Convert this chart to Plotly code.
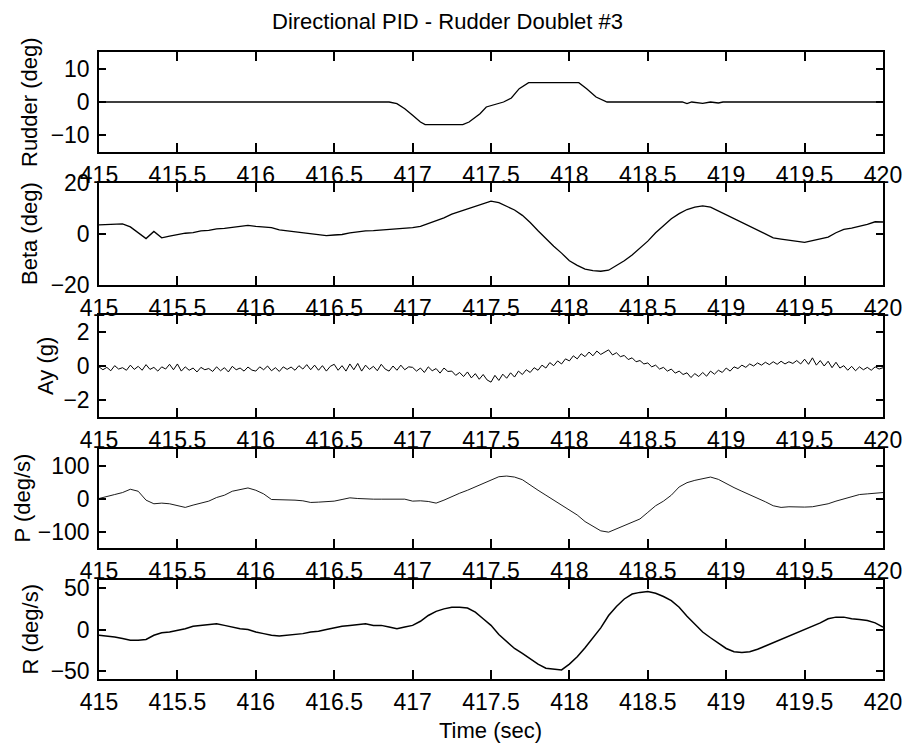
import numpy as np
import plotly.graph_objects as go

# ---------------- data ----------------
rudder_t = [415.0, 416.85, 416.90, 416.95, 417.00, 417.05, 417.08, 417.32, 417.36, 417.40,
            417.43, 417.47, 417.52, 417.58, 417.63, 417.68, 417.74, 418.06, 418.11, 418.17,
            418.24, 418.72, 418.75, 418.78, 418.85, 418.90, 418.95, 418.98, 420.0]
rudder_v = [0.0, 0.0, -0.5, -2.0, -4.0, -6.0, -6.8, -6.8, -6.0, -4.5,
            -3.5, -1.5, -0.8, 0.0, 1.2, 4.0, 5.8, 5.8, 4.0, 1.5,
            0.0, 0.0, -0.5, 0.0, -0.4, 0.0, -0.3, 0.0, 0.0]

beta_v = [3.6, 3.8, 4.0, 4.0, 2.8, 0.5, -1.8, 1.0, -1.5, -0.8,
          -0.2, 0.3, 0.5, 1.2, 1.4, 2.0, 2.2, 2.6, 2.9, 3.4,
          3.0, 2.8, 2.5, 1.6, 1.2, 0.9, 0.5, 0.1, -0.3, -0.6,
          -0.4, -0.2, 0.4, 0.8, 1.2, 1.3, 1.5, 1.8, 2.0, 2.2,
          2.5, 3.0, 4.0, 5.0, 6.3, 7.8, 8.8, 10.0, 11.0, 12.0,
          12.9, 12.3, 11.0, 9.4, 7.3, 4.5, 1.3, -1.8, -4.8, -7.5,
          -10.5, -12.3, -13.8, -14.4, -14.6, -14.2, -12.5, -10.5, -8.2, -5.5,
          -2.8, 0.5, 3.2, 6.0, 8.0, 9.6, 10.5, 11.0, 10.5, 9.0,
          7.5, 6.0, 4.5, 3.0, 1.2, 0.0, -1.5, -2.0, -2.4, -2.8,
          -3.3, -2.6, -2.0, -1.2, 0.5, 1.8, 2.3, 3.0, 3.8, 4.8,
          4.7]

ay_v = [-0.05, -0.22, -0.08, -0.28, 0.02, -0.18, -0.10, -0.25, 0.05, -0.20,
        -0.02, -0.25, 0.08, -0.20, -0.08, -0.30, -0.05, -0.18, 0.10, -0.22,
        0.12, -0.30, -0.05, -0.25, -0.12, -0.35, -0.08, -0.22, -0.15, -0.32,
        -0.05, -0.28, -0.10, -0.35, -0.02, -0.22, -0.12, -0.30, -0.06, -0.24,
        -0.30, -0.05, -0.22, 0.00, -0.28, -0.10, -0.32, -0.05, -0.20, -0.06,
        -0.25, 0.02, -0.18, 0.08, -0.22, 0.05, -0.25, 0.02, -0.30, -0.02,
        0.10, -0.25, 0.02, -0.30, 0.12, -0.22, 0.15, -0.30, 0.05, -0.20,
        -0.02, -0.28, 0.10, -0.18, -0.30, 0.00, -0.25, 0.05, -0.22, -0.05,
        -0.08, -0.30, -0.12, -0.38, -0.05, -0.28, -0.15, -0.42, -0.12, -0.32,
        -0.30, -0.55, -0.38, -0.62, -0.35, -0.70, -0.45, -0.78, -0.50, -0.82,
        -0.95, -0.55, -0.85, -0.48, -0.72, -0.40, -0.65, -0.30, -0.50, -0.22,
        -0.38, -0.10, -0.25, 0.05, -0.12, 0.20, 0.02, 0.30, 0.12, 0.42,
        0.30, 0.60, 0.42, 0.72, 0.55, 0.82, 0.60, 0.88, 0.68, 0.80,
        0.95, 0.65, 0.78, 0.55, 0.62, 0.38, 0.48, 0.25, 0.32, 0.12,
        0.18, -0.05, 0.05, -0.18, -0.08, -0.30, -0.18, -0.42, -0.30, -0.50,
        -0.40, -0.68, -0.45, -0.62, -0.38, -0.60, -0.30, -0.48, -0.25, -0.38,
        -0.12, -0.30, -0.05, -0.15, 0.05, -0.08, 0.12, 0.00, 0.18, 0.05,
        0.22, 0.08, 0.25, 0.10, 0.28, 0.12, 0.25, 0.15, 0.32, 0.12,
        0.40, 0.10, 0.48, 0.05, 0.32, 0.00, 0.28, -0.10, 0.22, -0.12,
        0.02, -0.25, -0.02, -0.28, -0.05, -0.22, -0.08, -0.25, -0.05, -0.18,
        -0.10]

p_v = [0, 5, 12, 18, 28, 22, -5, -16, -14, -16,
       -22, -27, -20, -15, -8, 3, 10, 22, 26, 32,
       25, 14, -3, -3, -3, -5, -7, -12, -11, -10,
       -8, -3, 2, 0, -2, -2, -2, -2, -2, -2,
       -8, -7, -9, -14, -5, 6, 16, 25, 35, 47,
       57, 66, 68, 65, 57, 40, 25, 10, -5, -20,
       -33, -50, -70, -85, -98, -102, -92, -82, -74, -62,
       -42, -22, -8, 10, 35, 48, 55, 60, 65, 58,
       45, 33, 22, 12, 2, -10, -22, -27, -25, -26,
       -26, -25, -20, -16, -8, -2, 5, 12, 14, 15,
       18]

r_v = [-7, -8, -9, -11, -13, -13, -12, -7, -4, -3,
       -1, 1, 4, 5, 6, 7, 5, 3, 1, 0,
       -3, -5, -7, -8, -7, -6, -5, -3, -2, 0,
       2, 4, 5, 6, 7, 5, 5, 3, 1, 3,
       5, 10, 17, 22, 25, 27, 27, 26, 21, 13,
       5, -6, -15, -23, -29, -36, -42, -47, -48, -49,
       -42, -33, -22, -10, 2, 17, 28, 37, 43, 45,
       46, 44, 40, 35, 27, 16, 6, -3, -10, -17,
       -23, -27, -28, -27, -24, -20, -16, -12, -8, -4,
       0, 4, 8, 13, 15, 15, 13, 12, 11, 8,
       3]

x_ticks = [415, 415.5, 416, 416.5, 417, 417.5, 418, 418.5, 419, 419.5, 420]
x_ticktext = ["415", "415.5", "416", "416.5", "417", "417.5", "418", "418.5", "419", "419.5", "420"]

y_labels = ["Rudder (deg)", "Beta (deg)", "Ay (g)", "P (deg/s)", "R (deg/s)"]
y_ranges = [[-15, 15], [-20, 20], [-3, 3], [-150, 150], [-60, 60]]
y_ticks = [[-10, 0, 10], [-20, 0, 20], [-2, 0, 2], [-100, 0, 100], [-50, 0, 50]]

title_text = "Directional PID - Rudder Doublet #3"
xlabel_text = "Time (sec)"

# ---------------- figure ----------------
W, H = 908, 749
FONT = "Liberation Sans, Arial, sans-serif"
FS = 23

def fx(px):
    return px / W

def fy(py):
    return 1 - py / H

panels_px = [(52, 152), (183, 285), (315, 417), (449, 548), (580, 679)]
ylab_x = [30, 30, 45, 22, 30]
x_left, x_right = 99, 883

t_beta = np.linspace(415, 420, len(beta_v))
t_ay = np.linspace(415, 420, len(ay_v))
t_p = np.linspace(415, 420, len(p_v))
t_r = np.linspace(415, 420, len(r_v))

series = [
    (rudder_t, rudder_v, 1.3),
    (t_beta, beta_v, 1.3),
    (t_ay, ay_v, 1.0),
    (t_p, p_v, 0.9),
    (t_r, r_v, 1.5),
]

fig = go.Figure()
layout = dict(
    width=W, height=H, autosize=False,
    margin=dict(l=0, r=0, t=0, b=0, pad=0, autoexpand=False),
    paper_bgcolor="white", plot_bgcolor="white",
    showlegend=False,
    font=dict(family=FONT, color="black"),
)

annotations = []
for i, ((top, bot), (xs, ys, lw)) in enumerate(zip(panels_px, series)):
    n = i + 1
    sfx = "" if n == 1 else str(n)
    fig.add_trace(go.Scatter(x=list(xs), y=list(ys), mode="lines",
                             line=dict(color="black", width=lw),
                             xaxis="x" + sfx, yaxis="y" + sfx,
                             hoverinfo="skip"))
    layout["xaxis" + sfx] = dict(
        domain=[fx(x_left), fx(x_right)], anchor="y" + sfx,
        range=[415, 420], tickvals=x_ticks, ticktext=x_ticktext,
        ticks="inside", ticklen=9, tickwidth=1.5, tickcolor="black",
        showline=True, linecolor="black", linewidth=1.5, mirror="ticks",
        showgrid=False, zeroline=False, automargin=False,
        tickfont=dict(family=FONT, size=FS, color="black"),
        ticklabelstandoff=2,
    )
    layout["yaxis" + sfx] = dict(
        domain=[fy(bot), fy(top)], anchor="x" + sfx,
        range=y_ranges[i], tickvals=y_ticks[i],
        ticks="inside", ticklen=7, tickwidth=1.5, tickcolor="black",
        showline=True, linecolor="black", linewidth=1.5, mirror="ticks",
        showgrid=False, zeroline=False, automargin=False,
        tickfont=dict(family=FONT, size=FS, color="black"),
        ticklabelstandoff=3,
    )
    annotations.append(dict(
        text=y_labels[i], xref="paper", yref="paper",
        x=fx(ylab_x[i]), y=fy((top + bot) / 2),
        xanchor="center", yanchor="middle", textangle=-90, showarrow=False,
        font=dict(family=FONT, size=22, color="black"),
    ))

annotations.append(dict(
    text=title_text, xref="paper", yref="paper",
    x=fx(447), y=fy(21), xanchor="center", yanchor="middle", showarrow=False,
    font=dict(family=FONT, size=22, color="black"),
))
annotations.append(dict(
    text=xlabel_text, xref="paper", yref="paper",
    x=fx(490), y=fy(730), xanchor="center", yanchor="middle", showarrow=False,
    font=dict(family=FONT, size=22, color="black"),
))
layout["annotations"] = annotations
fig.update_layout(**layout)
fig.write_html("out.html")
